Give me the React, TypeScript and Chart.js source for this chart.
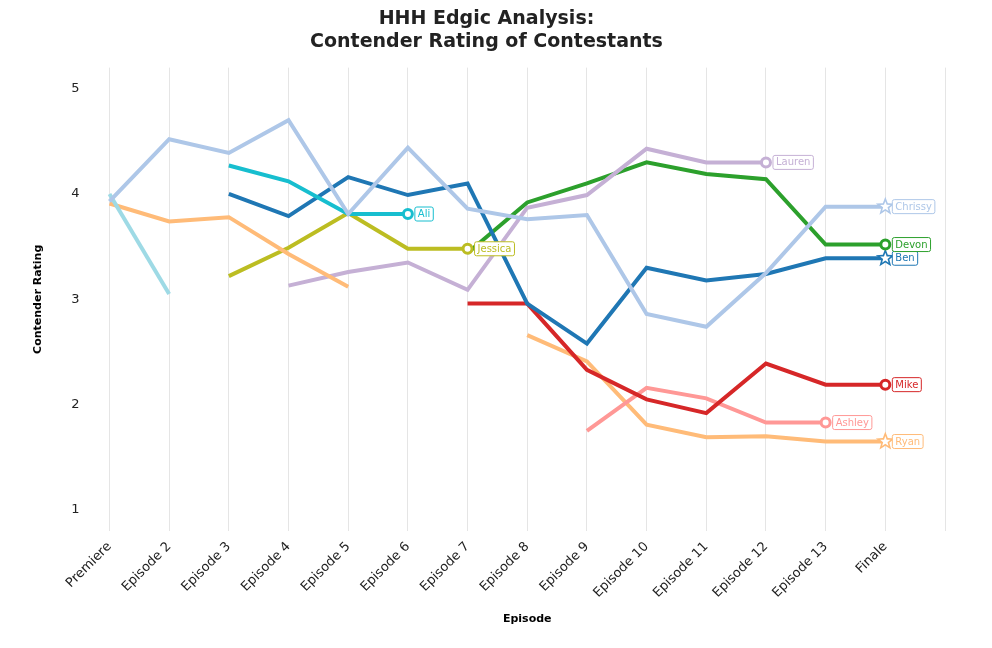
import { useEffect, useRef } from 'react';
import Chart from 'chart.js/auto';

const episodes = ['Premiere', 'Episode 2', 'Episode 3', 'Episode 4', 'Episode 5', 'Episode 6', 'Episode 7',
  'Episode 8', 'Episode 9', 'Episode 10', 'Episode 11', 'Episode 12', 'Episode 13', 'Finale', ''];

const N = null;
const chrissy = [3.93, 4.52, 4.39, 4.70, 3.81, 4.44, 3.86, 3.76, 3.80, 2.86, 2.74, 3.25, 3.88, 3.88];
const early1 = [4.0, 3.05];
const early2 = [3.91, 3.74, 3.78, 3.43, 3.12];
const ali = [N, N, 4.27, 4.12, 3.81, 3.81];
const ben = [N, N, 4.0, 3.79, 4.16, 3.99, 4.10, 2.96, 2.58, 3.30, 3.18, 3.24, 3.39, 3.39];
const jessica = [N, N, 3.22, 3.49, 3.82, 3.48, 3.48];
const lauren = [N, N, N, 3.13, 3.26, 3.35, 3.09, 3.87, 3.99, 4.43, 4.30, 4.30];
const devon = [N, N, N, N, N, N, 3.44, 3.92, 4.10, 4.30, 4.19, 4.14, 3.52, 3.52];
const mike = [N, N, N, N, N, N, 2.96, 2.96, 2.33, 2.05, 1.92, 2.39, 2.19, 2.19];
const ashley = [N, N, N, N, N, N, N, N, 1.75, 2.16, 2.06, 1.83, 1.83];
const ryan = [N, N, N, N, N, N, N, 2.66, 2.41, 1.81, 1.69, 1.70, 1.65, 1.65];

const series = [
  { name: 'Chrissy', data: chrissy, color: '#aec7e8', end: 'star' },
  { name: '', data: early1, color: '#9edae5', end: '' },
  { name: '', data: early2, color: '#ffbb78', end: '' },
  { name: 'Ali', data: ali, color: '#17becf', end: 'circle' },
  { name: 'Ben', data: ben, color: '#1f77b4', end: 'star' },
  { name: 'Jessica', data: jessica, color: '#bcbd22', end: 'circle' },
  { name: 'Lauren', data: lauren, color: '#c5b0d5', end: 'circle' },
  { name: 'Devon', data: devon, color: '#2ca02c', end: 'circle' },
  { name: 'Mike', data: mike, color: '#d62728', end: 'circle' },
  { name: 'Ashley', data: ashley, color: '#ff9896', end: 'circle' },
  { name: 'Ryan', data: ryan, color: '#ffbb78', end: 'star' },
];

function starPath(ctx: CanvasRenderingContext2D, x: number, y: number, r: number) {
  ctx.beginPath();
  for (let i = 0; i < 10; i++) {
    const rr = i % 2 === 0 ? r : r * 0.42;
    const a = -Math.PI / 2 + (i * Math.PI) / 5;
    const px = x + rr * Math.cos(a);
    const py = y + rr * Math.sin(a);
    if (i === 0) ctx.moveTo(px, py); else ctx.lineTo(px, py);
  }
  ctx.closePath();
}

const endLabels = {
  id: 'endLabels',
  afterDatasetsDraw(chart: any) {
    const ctx = chart.ctx as CanvasRenderingContext2D;
    chart.data.datasets.forEach((ds: any, i: number) => {
      const s = series[i];
      if (!s.end) return;
      const meta = chart.getDatasetMeta(i);
      const pt = meta.data[s.data.length - 1];
      const { x, y } = pt;
      ctx.save();
      if (s.end === 'star') {
        starPath(ctx, x, y, 10);
        ctx.fillStyle = s.color;
        ctx.fill();
        starPath(ctx, x, y, 5.5);
        ctx.fillStyle = '#fff';
        ctx.fill();
      } else {
        ctx.beginPath();
        ctx.arc(x, y, 4.5, 0, Math.PI * 2);
        ctx.fillStyle = '#fff';
        ctx.fill();
        ctx.lineWidth = 3;
        ctx.strokeStyle = s.color;
        ctx.stroke();
      }
      ctx.font = '10px "DejaVu Sans"';
      const w = ctx.measureText(s.name).width + 6;
      const bx = x + 7, by = y - 7;
      ctx.beginPath();
      ctx.roundRect(bx, by, w, 14, 2);
      ctx.fillStyle = '#fff';
      ctx.fill();
      ctx.lineWidth = 1;
      ctx.strokeStyle = s.color;
      ctx.stroke();
      ctx.fillStyle = s.color;
      ctx.textBaseline = 'middle';
      ctx.fillText(s.name, bx + 3, y + 0.5);
      ctx.restore();
    });
  },
};

export default function App() {
  const canvasRef = useRef<HTMLCanvasElement>(null);

  useEffect(() => {
    document.body.style.margin = '0';
    if (!canvasRef.current) return;
    const chart = new Chart(canvasRef.current, {
      type: 'line',
      data: {
        labels: episodes,
        datasets: series.map((s) => ({
          label: s.name,
          data: s.data,
          borderColor: s.color,
          backgroundColor: s.color,
          borderWidth: 4,
          pointRadius: 0,
          spanGaps: false,
        })),
      },
      options: {
        animation: false,
        responsive: false,
        layout: { padding: { left: 28, right: 47, top: 4, bottom: 18 } },
        plugins: {
          legend: { display: false },
          tooltip: { enabled: false },
          title: {
            display: true,
            text: ['HHH Edgic Analysis:', 'Contender Rating of Contestants'],
            color: '#222',
            font: { family: 'DejaVu Sans', size: 19, weight: 'bold' },
            padding: { top: 4, bottom: 14 },
          },
        },
        scales: {
          x: {
            offset: false,
            grid: { color: '#e5e5e5', drawTicks: false },
            border: { display: false },
            ticks: { color: '#222', font: { family: 'DejaVu Sans', size: 13 }, maxRotation: 45, minRotation: 45, padding: 8 },
            title: { display: true, text: 'Episode', color: '#000', font: { family: 'DejaVu Sans', size: 11, weight: 'bold' } },
          },
          y: {
            min: 0.8,
            max: 5.2,
            afterBuildTicks: (ax: any) => { ax.ticks = [1, 2, 3, 4, 5].map((v) => ({ value: v })); },
            grid: { display: false },
            border: { display: false },
            ticks: { color: '#222', font: { family: 'DejaVu Sans', size: 13 }, padding: 22 },
            title: { display: true, text: 'Contender Rating', color: '#000', font: { family: 'DejaVu Sans', size: 11, weight: 'bold' } },
          },
        },
      },
      plugins: [endLabels],
    });
    return () => chart.destroy();
  }, []);

  return <canvas ref={canvasRef} width={992} height={648} style={{ display: 'block' }} />;
}
